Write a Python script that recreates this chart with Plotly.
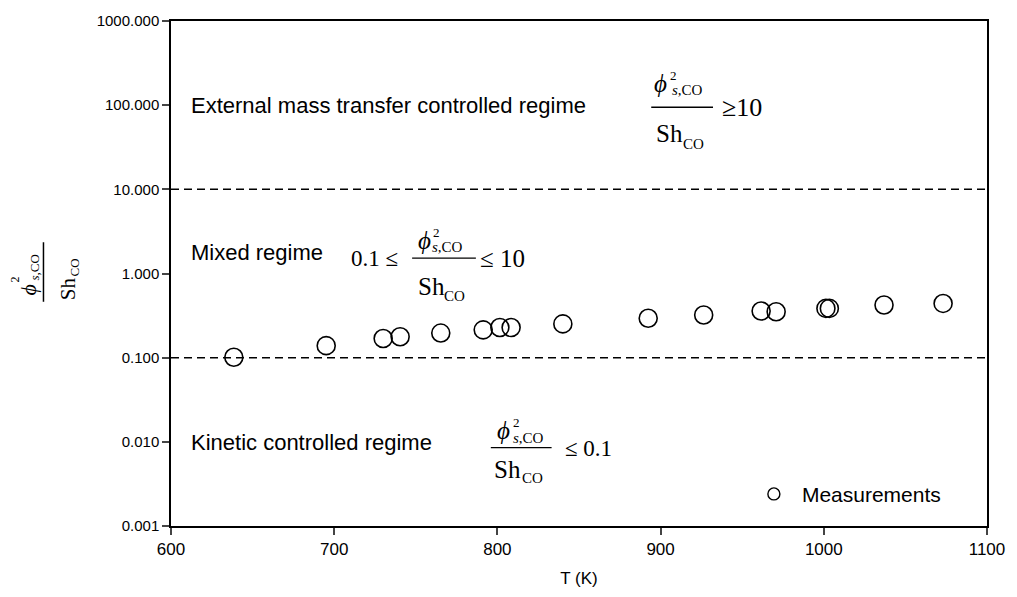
import math
import plotly.graph_objects as go

# ---- data ----
T_K = [638.5, 695.1, 730.0, 740.4, 765.3, 791.3, 801.5, 808.4, 840.1, 892.4,
       926.4, 961.6, 970.8, 1001.3, 1003.4, 1036.9, 1073.1]
ratio = [0.101, 0.139, 0.169, 0.177, 0.196, 0.214, 0.228, 0.228, 0.252, 0.294,
         0.321, 0.358, 0.351, 0.385, 0.385, 0.422, 0.441]
x_ticks = [600, 700, 800, 900, 1000, 1100]
y_ticks = [0.001, 0.01, 0.1, 1, 10, 100, 1000]
y_ticktext = ["0.001", "0.010", "0.100", "1.000", "10.000", "100.000", "1000.000"]
regime_bounds = [0.1, 10]
regime_labels = ["External mass transfer controlled regime", "Mixed regime", "Kinetic controlled regime"]
regime_label_y = [100, 1.78, 0.0097]

# ---- layout geometry (pixels) ----
W, H = 1017, 597
L, R, TOP, B = 171, 990, 17, 526

def px(x):
    return (x - L) / (R - L)

def py(y):
    return (B - y) / (B - TOP)

fig = go.Figure()
fig.add_trace(go.Scatter(
    x=T_K, y=ratio, mode="markers", showlegend=False,
    marker=dict(symbol="circle-open", size=18, color="black", line=dict(width=1.6, color="black")),
))
fig.add_trace(go.Scatter(
    x=[None], y=[None], mode="markers", name="Measurements",
    marker=dict(symbol="circle-open", size=12, color="black", line=dict(width=1.4, color="black")),
))

anns = []
shapes = []
SERIF = "Liberation Serif, Times New Roman"
SANS = "Liberation Sans, Arial"
PHI = "ϕ"

def add_text(xp, yp, text, size, family=SERIF, angle=0, xanchor="center"):
    anns.append(dict(x=px(xp), y=py(yp), xref="paper", yref="paper", text=text, showarrow=False,
                     xanchor=xanchor, yanchor="middle", textangle=angle,
                     font=dict(family=family, size=size, color="black")))

def hbar(x0, x1, y):
    shapes.append(dict(type="line", xref="paper", yref="paper", x0=px(x0), x1=px(x1), y0=py(y), y1=py(y),
                       line=dict(color="black", width=1.4)))

def vbar(x, y0, y1):
    shapes.append(dict(type="line", xref="paper", yref="paper", x0=px(x), x1=px(x), y0=py(y0), y1=py(y1),
                       line=dict(color="black", width=1.5)))

# regime labels
for lab, yv in zip(regime_labels, regime_label_y):
    anns.append(dict(x=611, y=math.log10(yv), xref="x", yref="y", text=lab,
                     showarrow=False, xanchor="left", yanchor="middle",
                     font=dict(family=SANS, size=22, color="black")))

# equation 1 (external)
add_text(662, 80, f"<i>{PHI}</i>", 25)
add_text(675, 72, "2", 13)
add_text(689, 87, "<i>s</i>,CO", 15)
hbar(653, 715, 104)
add_text(671, 130, "Sh", 25)
add_text(695, 141, "CO", 15)
add_text(744, 104, "≥10", 26)

# equation 2 (mixed)
add_text(375, 256, "0.1 ≤", 23)
add_text(425, 238, f"<i>{PHI}</i>", 25)
add_text(437, 230, "2", 13)
add_text(449, 245, "<i>s</i>,CO", 15)
hbar(413, 477, 256)
add_text(432, 285, "Sh", 25)
add_text(456, 294, "CO", 15)
add_text(504, 256, "≤ 10", 25)

# equation 3 (kinetic)
add_text(505, 430, f"<i>{PHI}</i>", 25)
add_text(518, 422, "2", 13)
add_text(530, 437, "<i>s</i>,CO", 15)
hbar(492, 553, 447)
add_text(509, 469, "Sh", 25)
add_text(534, 478, "CO", 15)
add_text(590, 448, "≤ 0.1", 23)

# y-axis title (rotated fraction)
add_text(28, 288, f"<i>{PHI}</i>", 22, angle=-90)
add_text(14, 278, "2", 12, angle=-90)
add_text(34, 266, "<i>s</i>,CO", 13, angle=-90)
vbar(43, 240, 300)
add_text(68, 287, "Sh", 21, angle=-90)
add_text(74, 265, "CO", 13, angle=-90)

# regime boundaries
for yb in regime_bounds:
    shapes.append(dict(type="line", xref="paper", yref="y", x0=0, x1=1, y0=yb, y1=yb,
                       line=dict(color="black", width=1.5, dash="8px,5px")))

fig.update_layout(
    width=W, height=H,
    margin=dict(l=L, r=W - R, t=TOP, b=H - B),
    paper_bgcolor="white", plot_bgcolor="white",
    font=dict(family=SANS, size=16, color="black"),
    annotations=anns, shapes=shapes,
    showlegend=True,
    legend=dict(x=px(748), y=py(494), xanchor="left", yanchor="middle",
                bgcolor="rgba(0,0,0,0)", font=dict(family=SANS, size=21, color="black"),
                itemwidth=46),
    xaxis=dict(range=[600, 1100], tickvals=x_ticks, ticks="outside", ticklen=7, tickwidth=1.5,
               showline=True, linecolor="black", linewidth=1.5, mirror=True, showgrid=False, zeroline=False,
               title=dict(text="T (K)", font=dict(family=SANS, size=17), standoff=14),
               tickfont=dict(family=SANS, size=17)),
    yaxis=dict(type="log", range=[-3, 3], tickvals=y_ticks, ticktext=y_ticktext, ticks="outside",
               ticklen=7, tickwidth=1.5, showline=True, linecolor="black", linewidth=1.5, mirror=True,
               showgrid=False, zeroline=False, tickfont=dict(family=SANS, size=15)),
)

fig.write_html("out.html")
